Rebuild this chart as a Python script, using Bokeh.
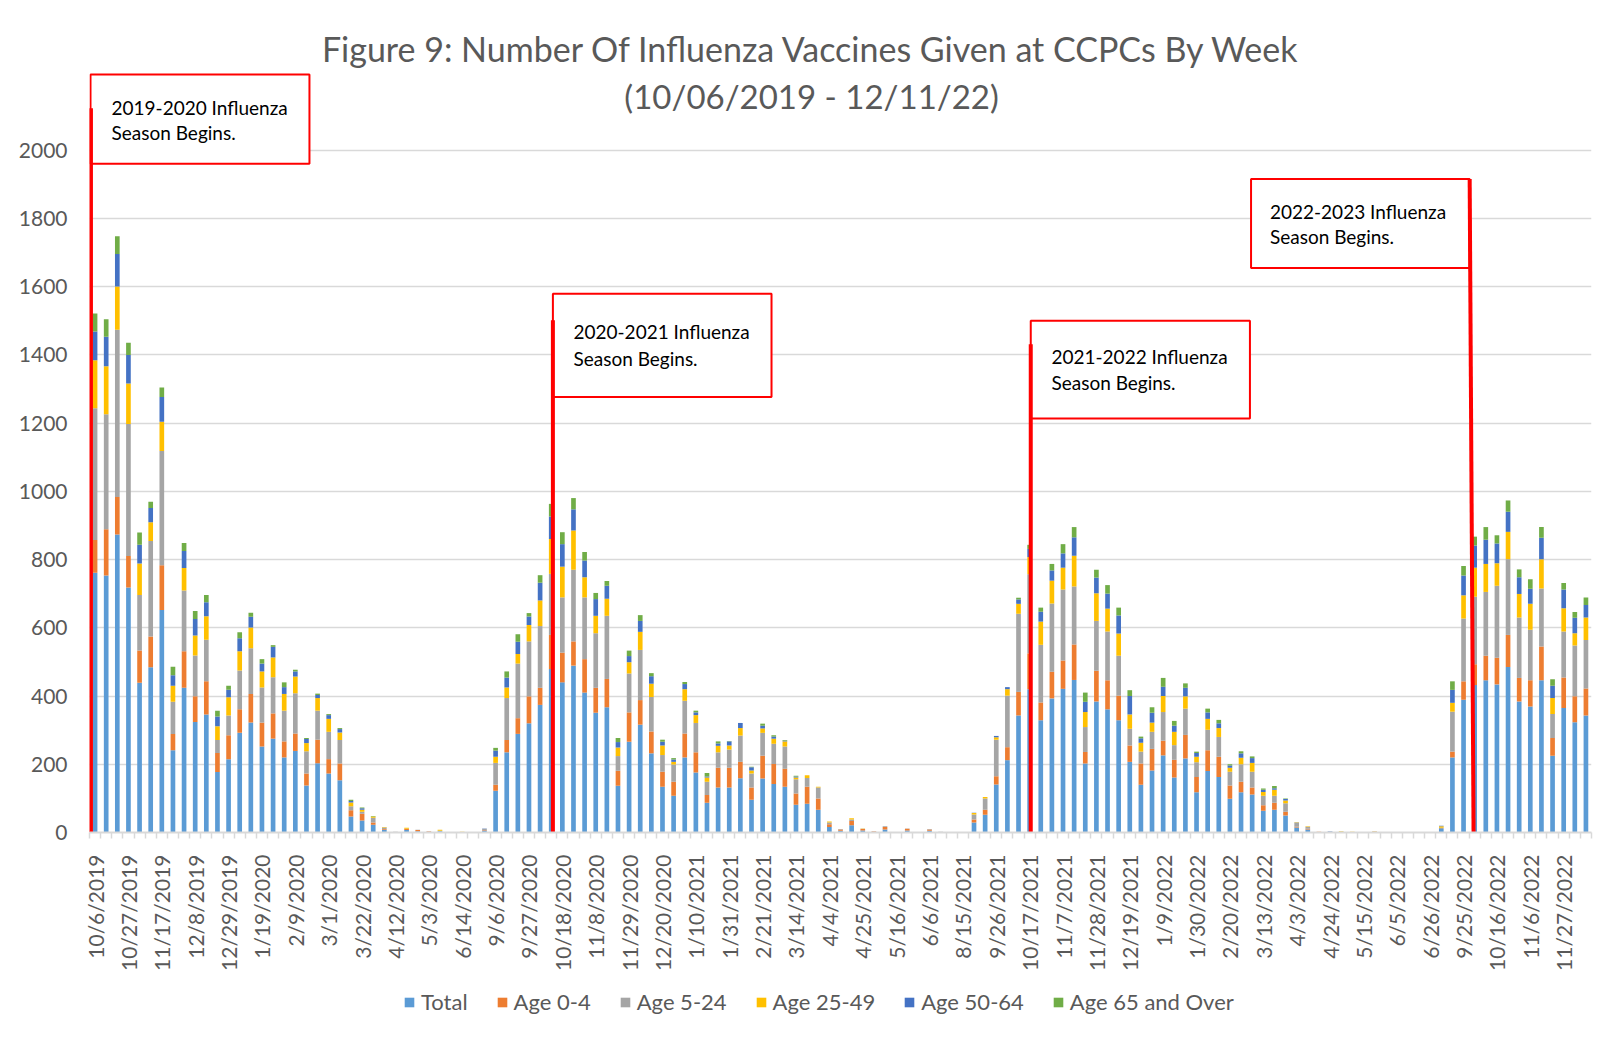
from bokeh.plotting import figure
from bokeh.models import (ColumnDataSource, Range1d, FixedTicker, Legend,
                          LegendItem, Label)
from bokeh.layouts import column
from bokeh.embed import file_html
from bokeh.resources import INLINE
from math import pi

# ---------------- data ----------------
weeks = [
    "10/6/2019", "10/13/2019", "10/20/2019", "10/27/2019", "11/3/2019", "11/10/2019",
    "11/17/2019", "11/24/2019", "12/1/2019", "12/8/2019", "12/15/2019", "12/22/2019",
    "12/29/2019", "1/5/2020", "1/12/2020", "1/19/2020", "1/26/2020", "2/2/2020",
    "2/9/2020", "2/16/2020", "2/23/2020", "3/1/2020", "3/8/2020", "3/15/2020",
    "3/22/2020", "3/29/2020", "4/5/2020", "4/12/2020", "4/19/2020", "4/26/2020",
    "5/3/2020", "5/17/2020", "6/7/2020", "6/14/2020", "6/28/2020", "8/30/2020",
    "9/6/2020", "9/13/2020", "9/20/2020", "9/27/2020", "10/4/2020", "10/11/2020",
    "10/18/2020", "10/25/2020", "11/1/2020", "11/8/2020", "11/15/2020", "11/22/2020",
    "11/29/2020", "12/6/2020", "12/13/2020", "12/20/2020", "12/27/2020", "1/3/2021",
    "1/10/2021", "1/17/2021", "1/24/2021", "1/31/2021", "2/7/2021", "2/14/2021",
    "2/21/2021", "2/28/2021", "3/7/2021", "3/14/2021", "3/21/2021", "3/28/2021",
    "4/4/2021", "4/11/2021", "4/18/2021", "4/25/2021", "5/2/2021", "5/9/2021",
    "5/16/2021", "5/23/2021", "5/30/2021", "6/6/2021", "6/20/2021", "8/8/2021",
    "8/15/2021", "9/12/2021", "9/19/2021", "9/26/2021", "10/3/2021", "10/10/2021",
    "10/17/2021", "10/24/2021", "10/31/2021", "11/7/2021", "11/14/2021", "11/21/2021",
    "11/28/2021", "12/5/2021", "12/12/2021", "12/19/2021", "12/26/2021", "1/2/2022",
    "1/9/2022", "1/16/2022", "1/23/2022", "1/30/2022", "2/6/2022", "2/13/2022",
    "2/20/2022", "2/27/2022", "3/6/2022", "3/13/2022", "3/20/2022", "3/27/2022",
    "4/3/2022", "4/10/2022", "4/17/2022", "4/24/2022", "5/1/2022", "5/8/2022",
    "5/15/2022", "5/22/2022", "5/29/2022", "6/5/2022", "6/12/2022", "6/19/2022",
    "6/26/2022", "9/11/2022", "9/18/2022", "9/25/2022", "10/2/2022", "10/9/2022",
    "10/16/2022", "10/23/2022", "10/30/2022", "11/6/2022", "11/13/2022", "11/20/2022",
    "11/27/2022", "12/4/2022", "12/11/2022",
]

tick_labels = [
    "10/6/2019", "10/27/2019", "11/17/2019", "12/8/2019", "12/29/2019", "1/19/2020",
    "2/9/2020", "3/1/2020", "3/22/2020", "4/12/2020", "5/3/2020", "6/14/2020",
    "9/6/2020", "9/27/2020", "10/18/2020", "11/8/2020", "11/29/2020", "12/20/2020",
    "1/10/2021", "1/31/2021", "2/21/2021", "3/14/2021", "4/4/2021", "4/25/2021",
    "5/16/2021", "6/6/2021", "8/15/2021", "9/26/2021", "10/17/2021", "11/7/2021",
    "11/28/2021", "12/19/2021", "1/9/2022", "1/30/2022", "2/20/2022", "3/13/2022",
    "4/3/2022", "4/24/2022", "5/15/2022", "6/5/2022", "6/26/2022", "9/25/2022",
    "10/16/2022", "11/6/2022", "11/27/2022",
]

total = [761, 753, 873, 718, 439, 484, 652, 241, 424, 324, 346, 177, 215, 292, 322, 252, 275, 220,
         239, 138, 203, 173, 153, 47, 35, 23, 8, 1, 7, 4, 2, 4, 0, 1, 0, 6,
         122, 235, 289, 320, 374, 479, 440, 489, 410, 351, 367, 137, 266, 316, 232, 134, 108, 220,
         176, 87, 132, 132, 159, 96, 158, 142, 134, 81, 84, 67,
         16, 5, 21, 6, 2, 9, 0, 6, 0, 5, 1, 0, 0, 29, 52,
         141, 212, 343, 420, 329, 393, 421, 447, 202, 384, 361, 329, 207, 140, 182, 226, 161, 217,
         118, 180, 163, 99, 118, 111, 64, 67, 50,
         15, 9, 1, 2, 2, 1, 0, 2, 0, 0, 0, 0, 0, 10,
         220, 389, 432, 446, 434, 485, 384, 369, 446, 225, 365, 323, 343]

age_0_4 = [96, 136, 110, 92, 94, 90, 131, 48, 107, 75, 97, 56, 70, 69, 84, 70, 74, 47,
           51, 35, 69, 42, 49, 18, 20, 6, 2, 0, 3, 3, 2, 0, 0, 0, 0, 1,
           18, 36, 46, 79, 50, 100, 87, 71, 98, 73, 83, 44, 86, 72, 64, 44, 41, 70,
           59, 23, 58, 58, 48, 36, 67, 59, 53, 33, 50, 33,
           8, 4, 13, 4, 2, 7, 0, 5, 0, 4, 0, 0, 0, 9, 15,
           24, 38, 69, 105, 52, 78, 83, 104, 34, 90, 85, 72, 48, 62, 63, 43, 52, 69,
           45, 61, 59, 39, 31, 21, 16, 20, 11,
           2, 2, 1, 0, 0, 0, 0, 1, 0, 0, 0, 0, 0, 0,
           17, 54, 61, 72, 78, 94, 69, 77, 99, 52, 89, 76, 79]

age_5_24 = [386, 337, 490, 387, 163, 280, 335, 94, 178, 120, 122, 38, 58, 114, 134, 103, 106, 90,
            118, 65, 85, 80, 69, 12, 6, 14, 5, 1, 1, 1, 0, 1, 0, 0, 0, 4,
            64, 123, 160, 161, 181, 179, 162, 210, 181, 160, 185, 43, 114, 147, 101, 49, 50, 96,
            86, 39, 45, 53, 77, 41, 67, 59, 65, 42, 26, 32,
            5, 1, 4, 1, 0, 2, 0, 1, 0, 1, 1, 0, 0, 15, 33,
            107, 151, 229, 232, 169, 200, 208, 170, 73, 146, 143, 117, 49, 35, 50, 84, 43, 77,
            43, 60, 58, 40, 51, 46, 28, 21, 25,
            11, 6, 0, 1, 0, 0, 0, 0, 0, 0, 0, 0, 0, 4,
            117, 184, 198, 187, 211, 222, 177, 148, 170, 70, 135, 149, 142]

age_25_49 = [141, 140, 127, 119, 92, 55, 86, 47, 66, 58, 69, 40, 53, 56, 61, 47, 58, 49,
             49, 24, 37, 38, 22, 11, 6, 4, 1, 0, 3, 0, 0, 3, 0, 1, 0, 0,
             18, 31, 28, 48, 75, 102, 90, 115, 59, 51, 50, 25, 33, 53, 39, 28, 8, 34,
             23, 12, 19, 12, 22, 9, 13, 15, 15, 5, 8, 2,
             3, 0, 4, 1, 0, 0, 0, 0, 0, 0, 0, 0, 0, 4, 4,
             7, 19, 29, 50, 68, 67, 64, 90, 44, 81, 67, 65, 42, 26, 27, 47, 39, 36,
             16, 32, 26, 12, 19, 26, 11, 17, 8,
             1, 1, 0, 0, 2, 1, 0, 1, 0, 0, 0, 0, 0, 4,
             26, 68, 85, 82, 66, 80, 69, 76, 86, 47, 68, 36, 66]

age_50_64 = [84, 87, 95, 83, 55, 42, 72, 31, 50, 49, 41, 29, 22, 38, 31, 23, 31, 20,
             15, 12, 9, 11, 10, 4, 4, 0, 0, 0, 0, 0, 0, 0, 0, 0, 0, 1,
             18, 29, 36, 25, 52, 66, 66, 62, 49, 49, 38, 16, 18, 32, 22, 11, 7, 15,
             8, 3, 7, 12, 15, 9, 8, 6, 2, 3, 0, 0,
             0, 0, 0, 0, 0, 0, 0, 0, 0, 0, 0, 0, 0, 1, 0,
             4, 6, 13, 24, 29, 30, 42, 54, 30, 46, 44, 53, 54, 13, 29, 27, 18, 25,
             11, 19, 14, 6, 13, 14, 6, 5, 4,
             1, 0, 0, 1, 0, 0, 0, 0, 0, 0, 0, 0, 0, 2,
             38, 58, 65, 71, 58, 59, 49, 44, 63, 36, 55, 45, 37]

age_65_over = [53, 51, 52, 36, 36, 18, 28, 25, 23, 23, 21, 17, 12, 18, 12, 13, 5, 14,
               5, 3, 4, 3, 3, 4, 2, 1, 0, 0, 0, 0, 0, 0, 0, 0, 0, 0,
               8, 18, 22, 10, 22, 37, 35, 33, 25, 18, 14, 12, 16, 17, 9, 6, 4, 6,
               5, 10, 6, 1, 0, 2, 6, 4, 2, 2, 0, 0,
               0, 0, 0, 0, 0, 0, 0, 0, 0, 0, 0, 0, 0, 0, 0,
               0, 0, 5, 12, 12, 19, 27, 30, 27, 23, 25, 23, 17, 5, 16, 26, 14, 13,
               4, 11, 10, 4, 6, 5, 4, 6, 2,
               0, 0, 0, 0, 0, 0, 0, 0, 0, 0, 0, 0, 0, 0,
               25, 28, 26, 37, 24, 33, 23, 28, 31, 19, 19, 17, 22]

series_names = ["Total", "Age 0-4", "Age 5-24", "Age 25-49", "Age 50-64", "Age 65 and Over"]
y_ticks = [0, 200, 400, 600, 800, 1000, 1200, 1400, 1600, 1800, 2000]

season_labels = ["2019-2020 Influenza", "2020-2021 Influenza",
                 "2021-2022 Influenza", "2022-2023 Influenza"]
season_line2 = "Season Begins."

# ---------------- styling / layout ----------------
colors = ["#5B9BD5", "#ED7D31", "#A5A5A5", "#FFC000", "#4472C4", "#70AD47"]
FONT = "Lato"
TXT = "#595959"

# callout boxes (left, right, bottom, top) and red marker lines (x_top, x_bottom, top)
box_left = [-0.41, 41.15, 84.1, 103.9]
box_right = [19.27, 60.8, 103.8, 123.55]
box_bottom = [1960, 1276, 1213, 1654]
box_top = [2221, 1579, 1500, 1915]
line_x_top = [-0.37, 41.15, 84.1, 123.55]
line_x_bot = [-0.37, 41.15, 84.1, 123.9]
line_top = [2122, 1501, 1431, 1915]
text_x = [1.48, 43.0, 85.96, 105.6]
text_y1 = [2125, 1467, 1394, 1821]
text_y2 = [2051, 1388, 1319, 1746]

W = 1611
MAIN_H = 975
LEG_H = 58

keys = ["total", "a04", "a524", "a2549", "a5064", "a65"]
source = ColumnDataSource(dict(
    x=list(range(len(weeks))), week=weeks,
    total=total, a04=age_0_4, a524=age_5_24, a2549=age_25_49,
    a5064=age_50_64, a65=age_65_over,
))

p = figure(width=W, height=MAIN_H, output_backend="svg", toolbar_location=None,
           x_range=Range1d(-0.5, len(weeks) - 0.5), y_range=Range1d(0, 2400),
           min_border_left=89, min_border_right=20, min_border_top=13,
           min_border_bottom=MAIN_H - 832)
p.outline_line_color = None
p.background_fill_color = "white"
p.border_fill_color = "white"

renderers = p.vbar_stack(keys, x="x", width=0.42, color=colors, source=source,
                         line_color=None)

# y axis
p.yaxis.ticker = FixedTicker(ticks=y_ticks)
p.yaxis.axis_line_color = None
p.yaxis.major_tick_line_color = None
p.yaxis.minor_tick_line_color = None
p.yaxis.major_tick_out = 0
p.yaxis.major_tick_in = 0
p.yaxis.major_label_standoff = 22
p.yaxis.major_label_text_font = FONT
p.yaxis.major_label_text_font_size = "21px"
p.yaxis.major_label_text_color = TXT
p.ygrid.ticker = FixedTicker(ticks=y_ticks)
p.ygrid.grid_line_color = "#D9D9D9"
p.ygrid.grid_line_width = 1.6
p.xgrid.visible = False

# x axis
tick_pos = [weeks.index(t) for t in tick_labels]
p.xaxis.ticker = FixedTicker(ticks=tick_pos,
                             minor_ticks=[i - 0.5 for i in range(len(weeks) + 1)])
p.xaxis.major_label_overrides = {i: weeks[i] for i in tick_pos}
p.xaxis.major_label_orientation = pi / 2
p.xaxis.major_tick_line_color = None
p.xaxis.major_tick_out = 0
p.xaxis.major_tick_in = 0
p.xaxis.minor_tick_line_color = "#D9D9D9"
p.xaxis.minor_tick_line_width = 1.5
p.xaxis.minor_tick_out = 6
p.xaxis.minor_tick_in = 0
p.xaxis.axis_line_color = "#D9D9D9"
p.xaxis.axis_line_width = 2
p.xaxis.major_label_standoff = 16
p.xaxis.major_label_text_font = FONT
p.xaxis.major_label_text_font_size = "21px"
p.xaxis.major_label_text_color = TXT

# callout boxes and red season lines
p.quad(left=box_left, right=box_right, bottom=box_bottom, top=box_top,
       fill_color="white", line_color="#FF0000", line_width=2)
p.segment(x0=line_x_top, y0=line_top, x1=line_x_bot, y1=[0, 0, 0, 0],
          line_color="#FF0000", line_width=4)
for tx, y1, y2, lab in zip(text_x, text_y1, text_y2, season_labels):
    p.add_layout(Label(x=tx, y=y1, text=lab, text_font=FONT, text_font_size="19px",
                       text_color="black", text_baseline="middle", text_align="left"))
    p.add_layout(Label(x=tx, y=y2, text=season_line2, text_font=FONT,
                       text_font_size="19px", text_color="black",
                       text_baseline="middle", text_align="left"))

# title
p.add_layout(Label(x=64.4, y=2296,
                   text="Figure 9: Number Of Influenza Vaccines Given at CCPCs By Week",
                   text_font=FONT, text_font_size="34px", text_color=TXT,
                   text_align="center", text_baseline="middle"))
p.add_layout(Label(x=64.4, y=2157, text="(10/06/2019 - 12/11/22)",
                   text_font=FONT, text_font_size="33px", text_color=TXT,
                   text_align="center", text_baseline="middle"))

# legend strip (separate figure under the chart, no axes; its frame aligns with the chart's)
pl = figure(width=W, height=LEG_H, output_backend="svg", toolbar_location=None,
            x_range=Range1d(0, 1), y_range=Range1d(0, 1),
            x_axis_type=None, y_axis_type=None,
            min_border_left=0, min_border_right=0, min_border_top=0,
            min_border_bottom=0)
pl.grid.visible = False
pl.outline_line_color = None
pl.background_fill_color = "white"
pl.border_fill_color = "white"
# legend proxies: zero-height bars, so only the legend swatches show
leg_renderers = [pl.vbar(x=[0.5], top=[0], bottom=[0], width=0.01, fill_color=c,
                         line_alpha=0) for c in colors]
items = [LegendItem(label=n, renderers=[r]) for n, r in zip(series_names, leg_renderers)]
legend = Legend(items=items, orientation="horizontal", location=(314, 18),
                label_text_font=FONT, label_text_font_size="22px",
                label_text_color=TXT, glyph_width=12, glyph_height=12,
                label_standoff=6, spacing=28, padding=0, margin=0,
                border_line_color=None, background_fill_alpha=0)
pl.add_layout(legend)

layout = column(p, pl, spacing=0)
open("out.html", "w").write(file_html(layout, INLINE))
